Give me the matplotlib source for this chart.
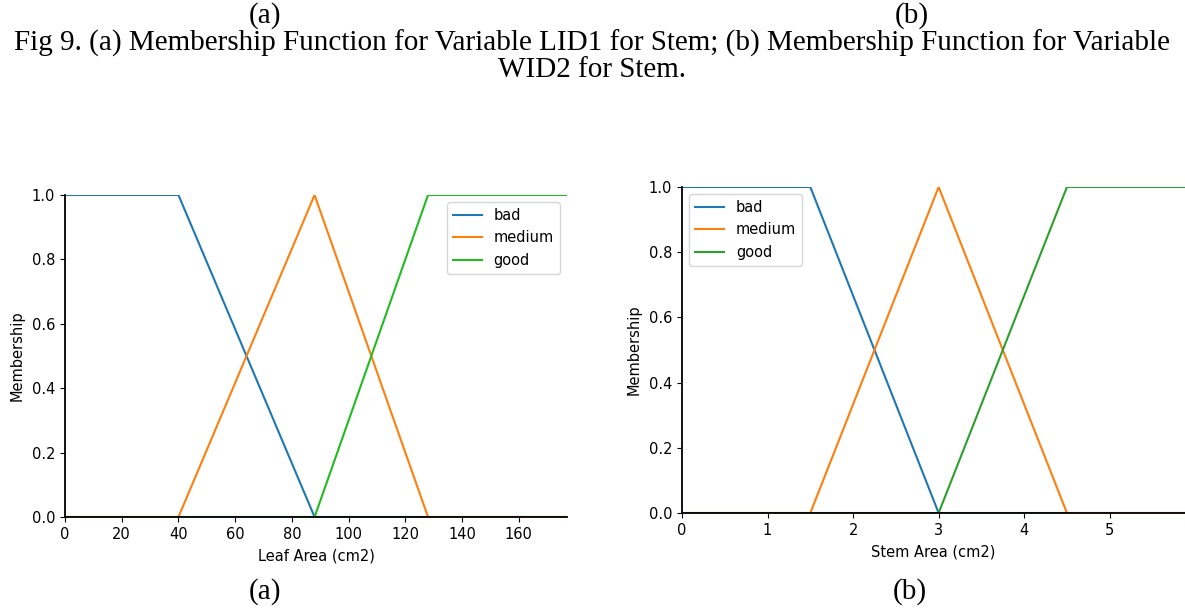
import matplotlib
matplotlib.use("Agg")
from matplotlib import pyplot as plt
import numpy as np

# leaf area membership functions (break points)
leaf_x = [0, 40, 88, 128, 177]
leaf_bad = [1.0, 1.0, 0.0, 0.0, 0.0]
leaf_medium = [0.0, 0.0, 1.0, 0.0, 0.0]
leaf_good = [0.0, 0.0, 0.0, 1.0, 1.0]

# stem area membership functions
stem_x = [0, 1.5, 3, 4.5, 6]
stem_bad = [1.0, 1.0, 0.0, 0.0, 0.0]
stem_medium = [0.0, 0.0, 1.0, 0.0, 0.0]
stem_good = [0.0, 0.0, 0.0, 1.0, 1.0]

labels = ["bad", "medium", "good"]
leaf_ticks = [0, 20, 40, 60, 80, 100, 120, 140, 160]
stem_ticks = [0, 1, 2, 3, 4, 5]
y_ticks = [0.0, 0.2, 0.4, 0.6, 0.8, 1.0]

W, H = 1185, 611
fig = plt.figure(figsize=(W / 100, H / 100), dpi=100)


def box(l, t, r, b):
    return [l / W, 1 - b / H, (r - l) / W, (b - t) / H]


def draw_panel(ax, x, curves, colors, xlabel, xlim, xticks, legend_loc):
    for ys, c, lab in zip(curves, colors, labels):
        ax.plot(x, ys, color=c, lw=1.5, label=lab)
    ax.set_xlim(*xlim)
    ax.set_ylim(0, 1.0)
    ax.set_xticks(xticks)
    ax.set_yticks(y_ticks)
    ax.spines["top"].set_visible(False)
    ax.spines["right"].set_visible(False)
    ax.spines["left"].set_linewidth(1.3)
    ax.spines["bottom"].set_linewidth(1.3)
    ax.tick_params(labelsize=10.5)
    ax.set_xlabel(xlabel, fontsize=10.5, labelpad=5)
    ax.set_ylabel("Membership", fontsize=10.5, labelpad=5)
    ax.legend(loc=legend_loc, fontsize=10.5, framealpha=0.8)


ax1 = fig.add_axes(box(65, 195, 567, 517))
draw_panel(ax1, leaf_x, [leaf_bad, leaf_medium, leaf_good],
           ["#1f77b4", "#ff7f0e", "#22bb22"], "Leaf Area (cm2)",
           (0, 177), leaf_ticks, "upper right")

ax2 = fig.add_axes(box(682, 187, 1185, 513))
draw_panel(ax2, stem_x, [stem_bad, stem_medium, stem_good],
           ["#1f77b4", "#ff7f0e", "#2ca02c"], "Stem Area (cm2)",
           (0, 5.88), stem_ticks, "upper left")

serif = {"family": "Liberation Serif", "fontsize": 21}
fig.text(265 / W, 1 - 16 / H, "(a)", ha="center", va="center", **serif)
fig.text(912 / W, 1 - 16 / H, "(b)", ha="center", va="center", **serif)
fig.text(0.5, 1 - 43 / H,
         "Fig 9. (a) Membership Function for Variable LID1 for Stem; (b) Membership Function for Variable",
         ha="center", va="center", **serif)
fig.text(0.5, 1 - 70 / H, "WID2 for Stem.", ha="center", va="center", **serif)
fig.text(265 / W, 1 - 592 / H, "(a)", ha="center", va="center", **serif)
fig.text(910 / W, 1 - 592 / H, "(b)", ha="center", va="center", **serif)

fig.savefig("out.png", dpi=100)
